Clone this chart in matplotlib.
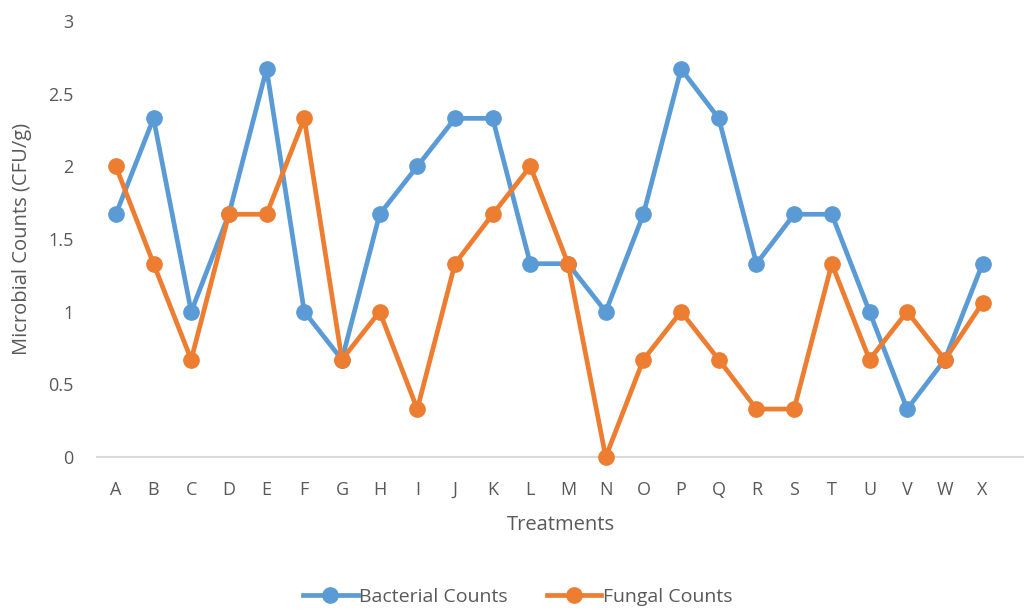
import numpy as np
import matplotlib.pyplot as plt

treatments = list("ABCDEFGHIJKLMNOPQRSTUVWX")
bacterial = [1.67, 2.33, 1.0, 1.67, 2.67, 1.0, 0.67, 1.67, 2.0, 2.33, 2.33, 1.33,
             1.33, 1.0, 1.67, 2.67, 2.33, 1.33, 1.67, 1.67, 1.0, 0.33, 0.67, 1.33]
fungal = [2.0, 1.33, 0.67, 1.67, 1.67, 2.33, 0.67, 1.0, 0.33, 1.33, 1.67, 2.0,
          1.33, 0.0, 0.67, 1.0, 0.67, 0.33, 0.33, 1.33, 0.67, 1.0, 0.67, 1.06]
y_ticks = [0, 0.5, 1, 1.5, 2, 2.5, 3]

plt.rcParams['font.family'] = ['Open Sans', 'DejaVu Sans']
text_color = '#595959'

fig = plt.figure(figsize=(10.24, 6.12), dpi=100)
ax = fig.add_axes([97 / 1024, 1 - 457 / 612, 1 - 97 / 1024, (457 - 21) / 612])

x = np.arange(len(treatments))
ax.plot(x, bacterial, color='#5B9BD5', lw=3.4, marker='o', ms=11,
        label='Bacterial Counts', clip_on=False, zorder=3)
ax.plot(x, fungal, color='#ED7D31', lw=3.4, marker='o', ms=11,
        label='Fungal Counts', clip_on=False, zorder=4)

ax.set_xlim(-0.5, 24.1)
ax.set_ylim(0, 3)
ax.set_xticks(x)
ax.set_xticklabels(treatments)
ax.set_yticks(y_ticks)
ax.set_yticklabels([f'{v:g}' for v in y_ticks])

for side in ['top', 'right', 'left']:
    ax.spines[side].set_visible(False)
ax.spines['bottom'].set_color('#D9D9D9')
ax.spines['bottom'].set_linewidth(1.5)
ax.tick_params(axis='both', length=0, labelsize=13, colors=text_color)
ax.tick_params(axis='x', pad=17)
ax.tick_params(axis='y', pad=17)

ax.set_xlabel('Treatments', fontsize=14.5, color=text_color, labelpad=12)
fig.text(22 / 1024, 1 - 239 / 612, 'Microbial Counts (CFU/g)', rotation=90,
         ha='center', va='center', fontsize=14.5, color=text_color)

fig.legend(loc='center', bbox_to_anchor=(518 / 1024, 1 - 597 / 612), ncol=2,
           frameon=False, fontsize=14, labelcolor=text_color,
           handlelength=2.8, columnspacing=2.0, handletextpad=0.1)

fig.savefig('out.png', dpi=100)
